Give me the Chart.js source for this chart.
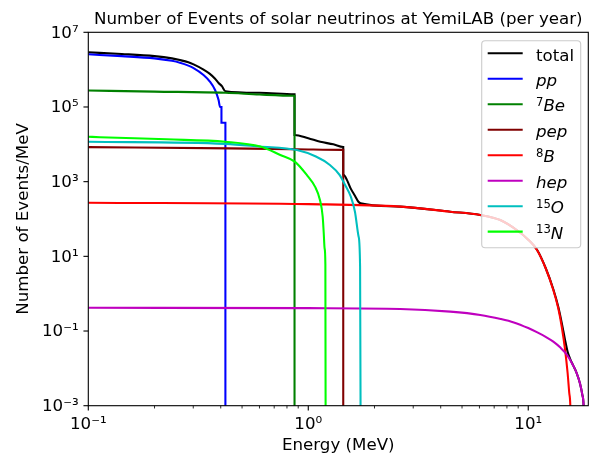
<!DOCTYPE html>
<html><head><meta charset="utf-8">
<script src="https://cdn.jsdelivr.net/npm/chart.js@4/dist/chart.umd.min.js"></script>
<style>html,body{margin:0;padding:0;background:#fff;}canvas{display:block;}</style>
</head><body>
<canvas id="c" width="595" height="458"></canvas>
<script>
// ---- text ----
const titleText = "Number of Events of solar neutrinos at YemiLAB (per year)";
const xLabelText = "Energy (MeV)";
const yLabelText = "Number of Events/MeV";

// ---- axes ----
const xMin = 0.1, xMax = 18.75, yMin = 1e-3, yMax = 1e7;
const xTicksMajor = [0.1, 1, 10];
const xTicksMinor = [0.2, 0.3, 0.4, 0.5, 0.6, 0.7, 0.8, 0.9, 2, 3, 4, 5, 6, 7, 8, 9];
const yTicksMajor = [1e-3, 1e-1, 1e1, 1e3, 1e5, 1e7];

// ---- series (energy in MeV, events per MeV) ----
const totalE = [0.1, 0.142, 0.2, 0.24, 0.261, 0.285, 0.301, 0.334, 0.357, 0.377, 0.391, 0.405, 0.42, 0.6, 0.866, 0.866, 1.0, 1.134, 1.3, 1.442, 1.442, 1.5, 1.56, 1.63, 1.69, 1.73, 2.62, 4.42, 6.05, 7.46, 8.89, 10.0, 10.96, 12.0, 13.0, 13.7, 14.2, 14.7, 15.1, 15.5, 16.0, 16.6, 17.2, 17.6, 17.85, 18.2];
const totalN = [2.91e6, 2.63e6, 2.3e6, 2.0e6, 1.8e6, 1.57e6, 1.38e6, 1.0e6, 7.7e5, 5.7e5, 4.4e5, 3.6e5, 2.65e5, 2.4e5, 2.2e5, 1.78e4, 1.45e4, 1.17e4, 1.0e4, 8.5e3, 1.55e3, 1.1e3, 650, 420, 290, 262, 214, 157, 128, 94, 50, 28, 15.0, 4.87, 1.31, 0.44, 0.165, 0.058, 0.028, 0.018, 0.012, 0.0075, 0.0039, 0.002, 0.001, 1e-5];

const ppE = [0.1, 0.142, 0.2, 0.24, 0.261, 0.285, 0.301, 0.334, 0.357, 0.377, 0.391, 0.397, 0.403, 0.403, 0.42, 0.42];
const ppN = [2.57e6, 2.3e6, 2.0e6, 1.72e6, 1.53e6, 1.28e6, 1.1e6, 7.2e5, 4.8e5, 2.85e5, 1.55e5, 1.0e5, 1.0e5, 3.8e4, 3.8e4, 1e-5];

const be7E = [0.1, 0.2, 0.42, 0.6, 0.866, 0.866];
const be7N = [2.75e5, 2.58e5, 2.4e5, 2.15e5, 2.0e5, 1e-5];

const pepE = [0.1, 0.44, 0.888, 1.442, 1.442];
const pepN = [8.4e3, 7.8e3, 7.4e3, 7.1e3, 1e-5];

const b8E = [0.1, 1.0, 2.62, 4.42, 6.05, 7.46, 8.89, 10.0, 10.96, 12.0, 13.0, 13.7, 14.2, 14.7, 15.1, 15.36, 15.55, 15.7];
const b8N = [272, 250, 214, 157, 128, 94, 50, 28, 14.8, 4.8, 1.26, 0.4, 0.13, 0.032, 0.0075, 0.0022, 0.0008, 1e-5];

const hepE = [0.1, 1.0, 2.62, 4.42, 6.05, 7.5, 8.6, 10.0, 11.0, 12.0, 13.0, 14.0, 15.0, 16.0, 16.6, 17.2, 17.6, 17.85, 18.2];
const hepN = [0.42, 0.41, 0.39, 0.33, 0.27, 0.21, 0.17, 0.12, 0.092, 0.07, 0.052, 0.036, 0.023, 0.012, 0.0075, 0.0039, 0.002, 0.001, 1e-5];

const o15E = [0.1, 0.42, 0.6, 0.888, 1.083, 1.254, 1.39, 1.47, 1.56, 1.63, 1.693, 1.72, 1.732];
const o15N = [1.17e4, 1.03e4, 8.7e3, 7.0e3, 4.7e3, 2.8e3, 1.5e3, 815, 400, 157, 34, 5.3, 1e-5];

const n13E = [0.1, 0.113, 0.227, 0.42, 0.605, 0.746, 0.871, 0.986, 1.073, 1.13, 1.163, 1.175, 1.187, 1.196, 1.2];
const n13N = [1.6e4, 1.55e4, 1.36e4, 1.17e4, 8.7e3, 5.2e3, 3.4e3, 1.5e3, 735, 324, 115, 45, 16, 6, 1e-5];

// legend labels: superscript prefix + main text (italic for math labels)
const legendSup = ["", "", "7", "", "8", "", "15", "13"];
const legendMain = ["total", "pp", "Be", "pep", "B", "hep", "O", "N"];
const legendItalic = [false, true, true, true, true, true, true, true];
const seriesColors = ["#000000", "#0000ff", "#008000", "#800000", "#ff0000", "#bf00bf", "#00bfbf", "#00ff00"];
const seriesE = [totalE, ppE, be7E, pepE, b8E, hepE, o15E, n13E];
const seriesN = [totalN, ppN, be7N, pepN, b8N, hepN, o15N, n13N];

// ---- build ----
const FONT = '"DejaVu Sans", sans-serif';
const FS = 16.67;
const supDigits = {"0":"⁰","1":"¹","2":"²","3":"³","4":"⁴","5":"⁵","6":"⁶","7":"⁷","8":"⁸","9":"⁹","-":"⁻"};
function powLabel(v) {
  const p = Math.round(Math.log10(v));
  return "10" + String(p).split("").map(c => supDigits[c]).join("");
}
function isMajor(v) { const l = Math.log10(v); return Math.abs(l - Math.round(l)) < 1e-9; }

const datasets = seriesE.map((E, i) => ({
  label: legendMain[i],
  data: E.map((e, j) => ({x: e, y: seriesN[i][j]})),
  borderColor: seriesColors[i],
  backgroundColor: seriesColors[i],
  borderWidth: 2.08,
  pointRadius: 0,
  cubicInterpolationMode: 'monotone',
  fill: false,
  clip: 0,
  order: seriesE.length - 1 - i
}));

const deco = {
  id: 'deco',
  afterDatasetsDraw(chart) {
    const ctx = chart.ctx, a = chart.chartArea, xs = chart.scales.x, ys = chart.scales.y;
    ctx.save();
    ctx.strokeStyle = '#000';
    const seg = (x1, y1, x2, y2, w) => { ctx.lineWidth = w; ctx.beginPath(); ctx.moveTo(x1, y1); ctx.lineTo(x2, y2); ctx.stroke(); };
    xTicksMajor.forEach(v => { const p = xs.getPixelForValue(v); seg(p, a.bottom, p, a.bottom + 4.86, 1.1); });
    xTicksMinor.forEach(v => { const p = xs.getPixelForValue(v); seg(p, a.bottom, p, a.bottom + 2.78, 0.83); });
    yTicksMajor.forEach(v => { const p = ys.getPixelForValue(v); seg(a.left - 4.86, p, a.left, p, 1.1); });
    ctx.lineWidth = 1.1;
    ctx.strokeRect(a.left, a.top, a.right - a.left, a.bottom - a.top);

    // legend
    const lw = 99, lh = 207;
    const lx = a.right - 7.6 - lw, ly = a.top + 8.4;
    ctx.beginPath();
    ctx.roundRect(lx, ly, lw, lh, 3.5);
    ctx.fillStyle = 'rgba(255,255,255,0.8)';
    ctx.fill();
    ctx.strokeStyle = '#cccccc';
    ctx.lineWidth = 1.1;
    ctx.stroke();
    for (let i = 0; i < legendMain.length; i++) {
      const y = ly + 12.6 + i * 25.48;
      ctx.strokeStyle = seriesColors[i];
      seg(lx + 6, y, lx + 41, y, 2.08);
      let tx = lx + 54.3;
      const base = y + 7.2;
      ctx.fillStyle = '#000';
      ctx.textBaseline = 'alphabetic';
      ctx.textAlign = 'left';
      if (legendSup[i]) {
        ctx.font = (FS * 0.7) + 'px ' + FONT;
        ctx.fillText(legendSup[i], tx, base - 5.5);
        tx += ctx.measureText(legendSup[i]).width;
      }
      ctx.font = (legendItalic[i] ? 'italic ' : '') + FS + 'px ' + FONT;
      ctx.fillText(legendMain[i], tx, base);
    }
    ctx.restore();
  },
  afterDraw(chart) {
    const ctx = chart.ctx, a = chart.chartArea;
    const cx = (a.left + a.right) / 2, cy = (a.top + a.bottom) / 2;
    ctx.save();
    ctx.fillStyle = '#000';
    ctx.font = FS + 'px ' + FONT;
    ctx.textAlign = 'center';
    ctx.textBaseline = 'alphabetic';
    ctx.fillText(titleText, cx, 24);
    ctx.fillText(xLabelText, cx, 450);
    ctx.translate(28, cy);
    ctx.rotate(-Math.PI / 2);
    ctx.fillText(yLabelText, 0, 0);
    ctx.restore();
  }
};

new Chart(document.getElementById('c'), {
  type: 'line',
  data: { datasets },
  options: {
    responsive: false,
    animation: false,
    devicePixelRatio: 1,
    layout: { padding: { top: 32.3, right: 6.7, left: 0, bottom: 0 } },
    plugins: { legend: { display: false }, tooltip: { enabled: false }, title: { display: false } },
    scales: {
      x: {
        type: 'logarithmic', min: xMin, max: xMax,
        grid: { display: false, drawTicks: false },
        border: { display: false },
        afterBuildTicks: s => { s.ticks = xTicksMajor.concat(xTicksMinor).sort((p, q) => p - q).map(v => ({ value: v })); },
        afterFit: s => { s.height = 52.3; },
        ticks: {
          autoSkip: false, maxRotation: 0, minRotation: 0, padding: 8.5,
          color: '#000', font: { family: FONT, size: FS },
          callback: v => isMajor(v) ? powLabel(v) : ''
        }
      },
      y: {
        type: 'logarithmic', min: yMin, max: yMax,
        grid: { display: false, drawTicks: false },
        border: { display: false },
        afterBuildTicks: s => { s.ticks = yTicksMajor.map(v => ({ value: v })); },
        afterFit: s => { s.width = 88.3; },
        ticks: {
          autoSkip: false, padding: 9.7, labelOffset: 1,
          color: '#000', font: { family: FONT, size: FS },
          callback: v => powLabel(v)
        }
      }
    }
  },
  plugins: [deco]
});
</script>
</body></html>
